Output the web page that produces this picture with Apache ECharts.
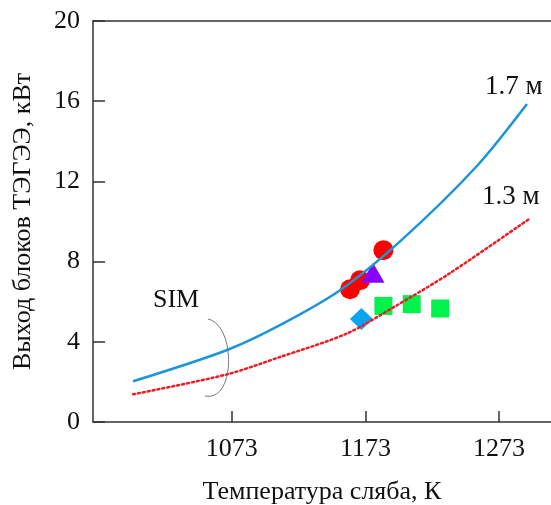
<!DOCTYPE html>
<html>
<head>
<meta charset="utf-8">
<script src="https://cdn.jsdelivr.net/npm/echarts@6/dist/echarts.min.js"></script>
<style>
  html, body { margin: 0; padding: 0; background: #fff; }
  #chart { width: 551px; height: 505px; }
</style>
</head>
<body>
<div id="chart"></div>
<script>
// SIM 1.7 м (сплошная синяя)
const sim17Temp = [999, 1069, 1109, 1154, 1200, 1256, 1294]
const sim17Power = [2.03, 3.58, 4.83, 6.57, 9.07, 12.73, 15.86]
// SIM 1.3 м (красная точечная)
const sim13Temp = [999, 1069, 1109, 1159, 1194, 1236, 1295]
const sim13Power = [1.38, 2.37, 3.24, 4.41, 5.72, 7.41, 10.1]
// эксперимент
const circleTemp = [1161.5, 1169, 1186.5]
const circlePower = [6.62, 7.07, 8.57]
const triangleTemp = [1178.7]
const trianglePower = [7.44]
const squareTemp = [1186.5, 1207.7, 1229]
const squarePower = [5.79, 5.88, 5.66]
const diamondTemp = [1170]
const diamondPower = [5.14]
// оси
const xTicks = [1073, 1173, 1273]

function zip(xs, ys) {
  return xs.map((x, i) => [x, ys[i]])
}

const font = "Liberation Serif"
const axisColor = "#333"

const chart = echarts.init(document.getElementById("chart"))
const option = {
  animation: false,
  grid: { left: 93, top: 21, right: 0, bottom: 83, outerBoundsMode: "none", containLabel: false },
  xAxis: [
    {
      type: "value",
      min: 969,
      max: 1312,
      name: "Температура сляба, К",
      nameLocation: "middle",
      nameGap: 57,
      nameTextStyle: { fontFamily: font, fontSize: 26, color: "#111" },
      axisLine: { lineStyle: { color: axisColor, width: 1.5 } },
      axisTick: { show: true, inside: true, length: 11, customValues: xTicks, lineStyle: { color: axisColor, width: 1.5 } },
      axisLabel: {
        customValues: xTicks,
        formatter: (v) => String(v),
        fontFamily: font,
        fontSize: 26,
        color: "#111",
        margin: 14
      },
      splitLine: { show: false }
    },
    {
      type: "value",
      position: "top",
      min: 969,
      max: 1312,
      axisLine: { show: true, lineStyle: { color: axisColor, width: 1.5 } },
      axisTick: { show: false },
      axisLabel: { show: false },
      splitLine: { show: false }
    }
  ],
  yAxis: {
    type: "value",
    min: 0,
    max: 20,
    interval: 4,
    name: "Выход блоков ТЭГЭЭ, кВт",
    nameLocation: "middle",
    nameGap: 57,
    nameTextStyle: { fontFamily: font, fontSize: 26, color: "#111" },
    axisLine: { show: true, lineStyle: { color: axisColor, width: 1.5 } },
    axisTick: { show: true, inside: true, length: 12, lineStyle: { color: axisColor, width: 1.5 } },
    axisLabel: { fontFamily: font, fontSize: 26, color: "#111", margin: 13 },
    splitLine: { show: false }
  },
  series: [
    {
      name: "1.7 м",
      type: "line",
      data: zip(sim17Temp, sim17Power),
      smooth: 0.3,
      symbol: "none",
      lineStyle: { color: "#1a96d8", width: 2.5 }
    },
    {
      name: "1.3 м",
      type: "line",
      data: zip(sim13Temp, sim13Power),
      smooth: 0.3,
      symbol: "none",
      lineStyle: { color: "#ee1c24", width: 2.5, type: [2, 3], cap: "round" }
    },
    {
      type: "scatter",
      data: zip(diamondTemp, diamondPower),
      symbol: "diamond",
      symbolSize: [23, 22],
      itemStyle: { color: "#0ba4f0", opacity: 1 }
    },
    {
      type: "scatter",
      data: zip(squareTemp, squarePower),
      symbol: "rect",
      symbolSize: 18,
      itemStyle: { color: "#00f24c", opacity: 1 }
    },
    {
      type: "scatter",
      data: zip(circleTemp, circlePower),
      symbol: "circle",
      symbolSize: 20,
      itemStyle: { color: "#ff0000", opacity: 1 }
    },
    {
      type: "scatter",
      data: zip(triangleTemp, trianglePower),
      symbol: "triangle",
      symbolSize: [23, 20],
      itemStyle: { color: "#8a00ff", opacity: 1 }
    }
  ],
  graphic: [
    {
      type: "text",
      left: 485,
      top: 73,
      style: { text: "1.7 м", fontFamily: font, fontSize: 27, fill: "#111" }
    },
    {
      type: "text",
      left: 482,
      top: 183,
      style: { text: "1.3 м", fontFamily: font, fontSize: 27, fill: "#111" }
    },
    {
      type: "text",
      left: 153,
      top: 287,
      style: { text: "SIM", fontFamily: font, fontSize: 26, fill: "#111" }
    },
    {
      // скобка SIM
      type: "bezierCurve",
      shape: { x1: 208, y1: 319, cpx1: 236, cpy1: 325, cpx2: 236, cpy2: 402, x2: 205, y2: 396 },
      style: { stroke: "#777", lineWidth: 1, fill: null }
    }
  ]
}
chart.setOption(option)
</script>
</body>
</html>
